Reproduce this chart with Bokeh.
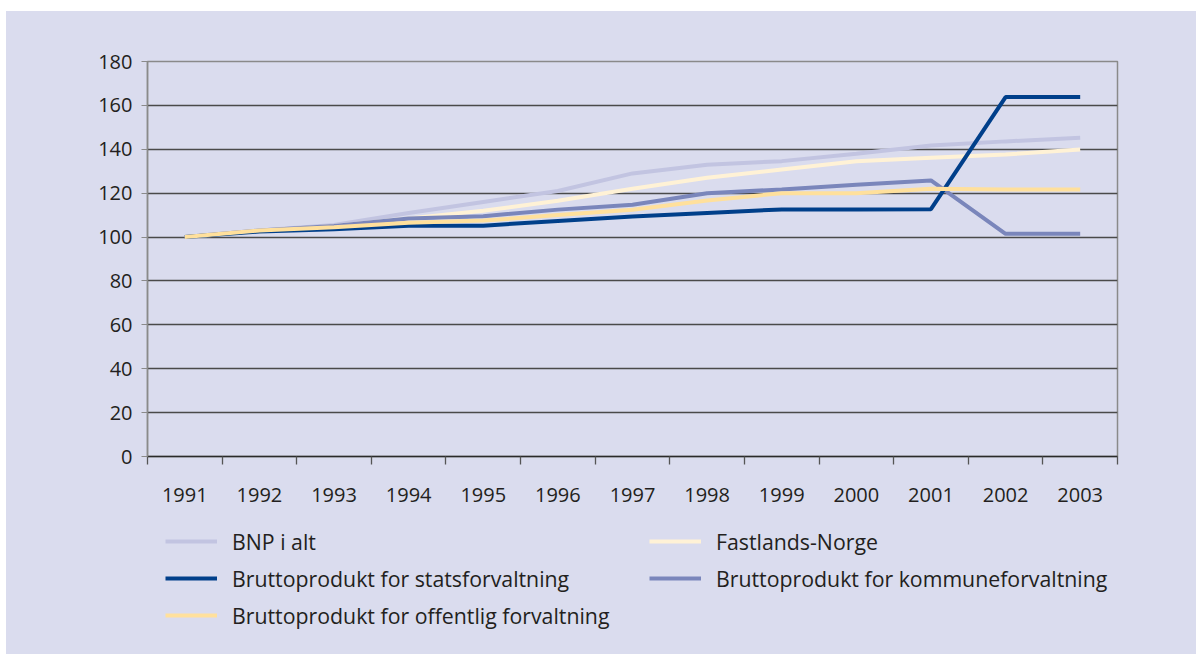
from bokeh.plotting import figure
from bokeh.layouts import column
from bokeh.models import FixedTicker, Legend, LegendItem, Range1d
from bokeh.embed import file_html
from bokeh.resources import INLINE

years = ["1991", "1992", "1993", "1994", "1995", "1996", "1997",
         "1998", "1999", "2000", "2001", "2002", "2003"]
bnp = [100, 103, 105.5, 111, 116, 121, 129, 133, 134.6, 138, 141.7, 143.6, 145.2]
fastland = [100, 102.5, 105, 108.5, 112, 116.5, 122, 127, 130.8, 134.5, 136.1, 137.6, 139.9]
stats = [100, 102.5, 103.5, 105.1, 105.2, 107.3, 109.4, 111, 112.6, 112.6, 112.7, 163.8, 163.8]
kommune = [100, 103, 105, 108.5, 109.5, 112.5, 114.7, 120, 121.7, 123.8, 125.8, 101.5, 101.5]
offentlig = [100, 103, 104.5, 106.5, 107.5, 110, 112.4, 116.7, 120, 120, 122, 121.7, 121.7]
y_ticks = [0, 20, 40, 60, 80, 100, 120, 140, 160, 180]

names = ["BNP i alt", "Fastlands-Norge", "Bruttoprodukt for statsforvaltning",
         "Bruttoprodukt for kommuneforvaltning", "Bruttoprodukt for offentlig forvaltning"]
colors = ["#c2c4e1", "#fff2d6", "#003f8a", "#7a86bb", "#ffe09c"]
series = [bnp, fastland, stats, kommune, offentlig]

BG = "#dadcee"
FONT = "Open Sans"
TXT = "#231f20"

xs = list(range(len(years)))

p = figure(frame_width=970, frame_height=395, output_backend="svg", toolbar_location=None,
           x_range=Range1d(-0.5, len(years) - 0.5), y_range=Range1d(0, 180),
           min_border_left=141, min_border_right=79, min_border_top=50, min_border_bottom=64)
p.background_fill_color = BG
p.border_fill_color = BG
p.outline_line_color = "#8a8a8a"
p.outline_line_width = 1.5

p.xgrid.grid_line_color = None
p.ygrid.grid_line_color = "#4a4a4a"
p.ygrid.grid_line_width = 1.3
p.ygrid.ticker = FixedTicker(ticks=y_ticks)

p.yaxis.ticker = FixedTicker(ticks=y_ticks)
p.yaxis.axis_line_color = "#8a8a8a"
p.yaxis.axis_line_width = 1.5
p.yaxis.major_tick_line_color = "#8a8a8a"
p.yaxis.major_tick_out = 6
p.yaxis.major_tick_in = 0
p.yaxis.minor_tick_line_color = None
p.yaxis.major_label_standoff = 9
p.yaxis.major_label_text_font = FONT
p.yaxis.major_label_text_font_size = "20px"
p.yaxis.major_label_text_color = TXT

p.xaxis.ticker = FixedTicker(ticks=xs, minor_ticks=[i - 0.5 for i in range(len(years) + 1)])
p.xaxis.major_label_overrides = {i: y for i, y in enumerate(years)}
p.xaxis.axis_line_color = "#2a2a2a"
p.xaxis.axis_line_width = 1.5
p.xaxis.major_tick_line_color = None
p.xaxis.major_tick_out = 0
p.xaxis.major_tick_in = 0
p.xaxis.minor_tick_line_color = "#555555"
p.xaxis.minor_tick_line_width = 1.3
p.xaxis.minor_tick_out = 8
p.xaxis.minor_tick_in = 0
p.xaxis.major_label_standoff = 23
p.xaxis.major_label_text_font = FONT
p.xaxis.major_label_text_font_size = "20px"
p.xaxis.major_label_text_color = TXT

for idx in [0, 1, 3, 2, 4]:
    p.line(xs, series[idx], line_color=colors[idx], line_width=4)

# legend strip below the chart (series lie outside its range, so only the legend shows)
p2 = figure(frame_width=1190, frame_height=134, output_backend="svg", toolbar_location=None,
            x_range=Range1d(0, 1), y_range=Range1d(0, 1),
            x_axis_type=None, y_axis_type=None,
            min_border_left=0, min_border_right=0, min_border_top=0, min_border_bottom=0)
p2.background_fill_color = BG
p2.border_fill_color = BG
p2.outline_line_color = None
p2.xgrid.grid_line_color = None
p2.ygrid.grid_line_color = None

leg_renderers = [p2.line(xs, series[i], line_color=colors[i], line_width=4) for i in range(5)]
items = [LegendItem(label=names[i], renderers=[leg_renderers[i]]) for i in range(5)]
legend = Legend(items=items, orientation="horizontal", ncols=2,
                location=(159, 24), glyph_width=52, glyph_height=30,
                label_height=30, label_width=410, label_standoff=15, spacing=7,
                padding=0, margin=0, border_line_color=None, background_fill_alpha=0,
                label_text_font=FONT, label_text_font_size="21.3px", label_text_color=TXT)
p2.add_layout(legend, "center")

layout = column(p, p2, spacing=0, styles={"background-color": BG})
layout.margin = (11, 0, 0, 6)
open("out.html", "w").write(file_html(layout, INLINE))
